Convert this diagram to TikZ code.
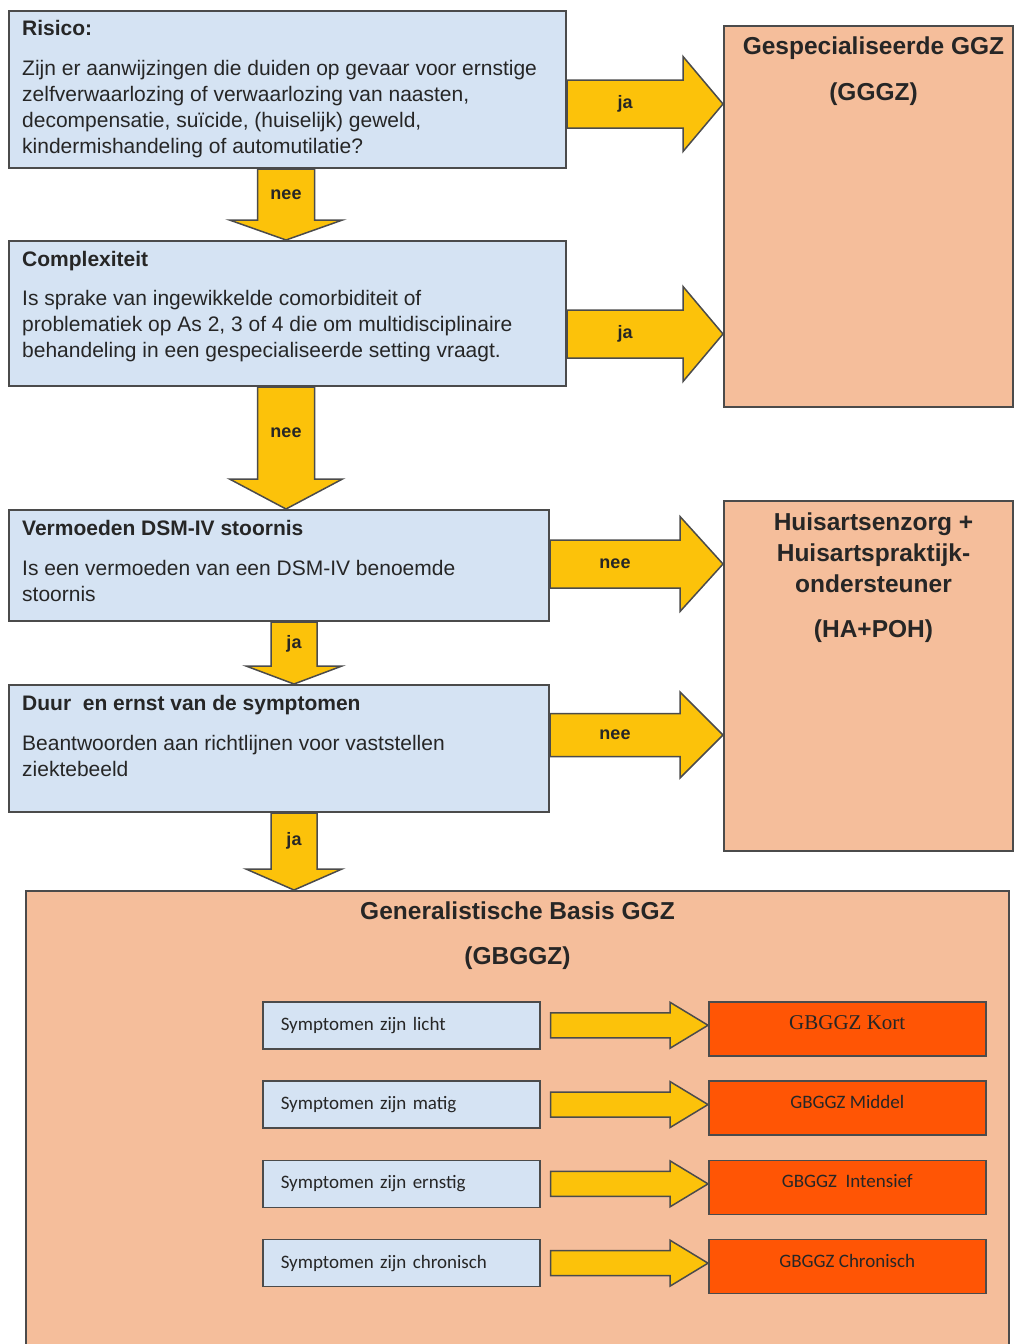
\documentclass[tikz,border=0pt]{standalone}
\usepackage{fontspec}
\setmainfont{Liberation Sans}
\newfontfamily\calfont{Carlito}
\newfontfamily\serfont{Liberation Serif}
\usepackage{tikz}
\usetikzlibrary{calc}

\definecolor{qblue}{RGB}{213,227,243}
\definecolor{salmon}{RGB}{245,190,155}
\definecolor{arrowyellow}{RGB}{252,194,10}
\definecolor{hotorange}{RGB}{255,85,5}
\definecolor{bordergray}{RGB}{75,75,75}

\begin{document}
\begin{tikzpicture}[x=1pt, y=-1pt]
    \tikzstyle{qbox} = [draw=bordergray, line width=2pt, fill=qblue, rectangle, anchor=north west, inner sep=0pt]
    \tikzstyle{sbox} = [draw=bordergray, line width=2pt, fill=salmon, rectangle, anchor=north west, inner sep=0pt]
    \tikzstyle{qtxt} = [anchor=north west, align=left, inner sep=0pt, text=black!85, font=\fontsize{21}{26}\selectfont]
    \tikzstyle{ttl} = [anchor=north, align=center, inner sep=0pt, text=black!85, font=\bfseries\fontsize{24.5}{31}\selectfont]
    \tikzstyle{lbl} = [inner sep=0pt, text=black!85, font=\bfseries\fontsize{18}{20}\selectfont]
    \tikzstyle{blockarrow} = [draw=bordergray, fill=arrowyellow, line width=1.5pt, line join=miter]
    \tikzstyle{symbox} = [draw=bordergray, line width=1.5pt, fill=qblue, anchor=north west, minimum height=47pt, text width=241pt, inner sep=0pt, inner xsep=18pt, align=left, text=black!85, font=\calfont\fontsize{19}{22}\selectfont]
    \tikzstyle{lvlbox} = [draw=bordergray, line width=1.5pt, fill=hotorange, anchor=north west, minimum width=277pt, minimum height=54pt, inner sep=0pt, text height=13pt, text depth=12pt, text=black!85, font=\calfont\fontsize{19}{22}\selectfont]

    \useasboundingbox (0,0) rectangle (1014,1344);
    \clip (0,0) rectangle (1014,1344);

    % uitkomsten
    \node[sbox, minimum width=289pt, minimum height=381pt] (gggz) at (723,25) {};
    \node[sbox, minimum width=289pt, minimum height=350pt] (hapoh) at (723,500) {};
    \node[sbox, minimum width=983pt, minimum height=470pt] (gbggz) at (25,890) {};
    \node[ttl] (gggztxt) at ($(gggz.north)+(5,12)$) {Gespecialiseerde GGZ\\[15pt](GGGZ)};
    \node[ttl] (hapohtxt) at ($(hapoh.north)+(5,13)$) {Huisartsenzorg +\\Huisartspraktijk-\\ondersteuner\\[14pt](HA+POH)};
    \node[ttl] (gbggztxt) at ($(gbggz.north)+(0,12)$) {Generalistische Basis GGZ\\[14pt](GBGGZ)};

    % vragen
    \node[qbox, minimum width=557pt, minimum height=157pt] (risk) at (8,10) {};
    \node[qbox, minimum width=557pt, minimum height=145pt] (cplx) at (8,240) {};
    \node[qbox, minimum width=540pt, minimum height=111pt] (dsm) at (8,509) {};
    \node[qbox, minimum width=540pt, minimum height=127pt] (duur) at (8,684) {};

    \node[qtxt] (risktxt) at ($(risk.north west)+(14,10)$) {\textbf{Risico:}\\[14pt]Zijn er aanwijzingen die duiden op gevaar voor ernstige\\zelfverwaarlozing of verwaarlozing van naasten,\\decompensatie, suïcide, (huiselijk) geweld,\\kindermishandeling of automutilatie?};
    \node[qtxt] (cplxtxt) at ($(cplx.north west)+(14,11)$) {\textbf{Complexiteit}\\[13pt]Is sprake van ingewikkelde comorbiditeit of\\problematiek op As 2, 3 of 4 die om multidisciplinaire\\behandeling in een gespecialiseerde setting vraagt.};
    \node[qtxt] (dsmtxt) at ($(dsm.north west)+(14,11)$) {\textbf{Vermoeden DSM-IV stoornis}\\[14pt]Is een vermoeden van een DSM-IV benoemde\\stoornis};
    \node[qtxt] (duurtxt) at ($(duur.north west)+(14,11)$) {\textbf{Duur\ \ en ernst van de symptomen}\\[14pt]Beantwoorden aan richtlijnen voor vaststellen\\ziektebeeld};

    % pijlen naar beneden
    \foreach \from/\to/\xc/\sw/\hw/\hl/\lab in {risk/cplx/286/57/113/20/nee, cplx/dsm/286/57/113/30/nee, dsm/duur/294/46/96/18/ja, duur/gbggz/294/46/96/21/ja} {
        \coordinate (top) at (\from.south -| \xc,0);
        \coordinate (tip) at (\to.north -| \xc,0);
        \draw[blockarrow] ($(top)+(-\sw/2,0)$) -- ($(tip)+(-\sw/2,-\hl)$) -- ($(tip)+(-\hw/2,-\hl)$) -- (tip)
            -- ($(tip)+(\hw/2,-\hl)$) -- ($(tip)+(\sw/2,-\hl)$) -- ($(top)+(\sw/2,0)$) -- cycle;
        \node[lbl] at ($(top)!0.5!(tip)+(0,-\hl/2)$) {\lab};
    }

    % pijlen naar rechts
    \foreach \from/\to/\yc/\sw/\hw/\hl/\lab in {risk/gggz/104/48/95/40/ja, cplx/gggz/334/48/95/40/ja, dsm/hapoh/564/48/95/43/nee, duur/hapoh/735/43/86/43/nee} {
        \coordinate (start) at (\from.east |- 0,\yc);
        \coordinate (tip) at (\to.west |- 0,\yc);
        \draw[blockarrow] ($(start)+(0,-\sw/2)$) -- ($(tip)+(-\hl,-\sw/2)$) -- ($(tip)+(-\hl,-\hw/2)$) -- (tip)
            -- ($(tip)+(-\hl,\hw/2)$) -- ($(tip)+(-\hl,\sw/2)$) -- ($(start)+(0,\sw/2)$) -- cycle;
        \node[lbl] at ($(start)!0.5!(tip)+(-\hl/2,0)$) {\lab};
    }

    % ernst -> GBGGZ variant
    \foreach \i/\sev/\lvl in {0/licht/{\serfont\fontsize{21}{24}\selectfont GBGGZ Kort}, 1/matig/{GBGGZ Middel}, 2/ernstig/{GBGGZ\ \ Intensief}, 3/chronisch/{GBGGZ Chronisch}} {
        \node[symbox] (s\i) at (262,1001+79.3*\i) {Symptomen zijn \sev};
        \node[lvlbox] (g\i) at (708,1001+79.3*\i) {\lvl};
        \coordinate (st) at ($(s\i.east)+(10,0)$);
        \coordinate (tp) at (g\i.west |- s\i.east);
        \draw[blockarrow] ($(st)+(0,-12.5)$) -- ($(tp)+(-38,-12.5)$) -- ($(tp)+(-38,-23)$) -- (tp)
            -- ($(tp)+(-38,23)$) -- ($(tp)+(-38,12.5)$) -- ($(st)+(0,12.5)$) -- cycle;
    }
\end{tikzpicture}
\end{document}
